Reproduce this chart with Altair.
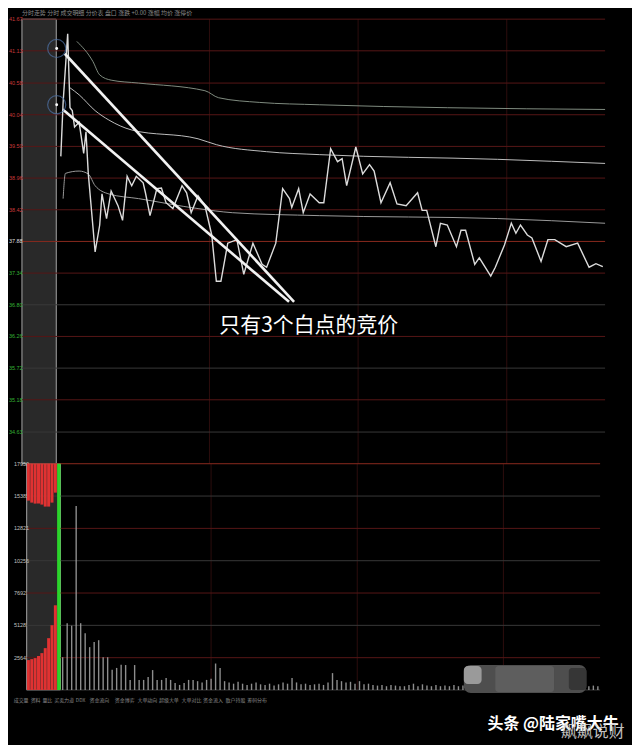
import altair as alt
import pandas as pd

# ---------------- data ----------------
PREV_CLOSE = 37.88
PRICE_MIN, PRICE_MAX = 34.09, 41.67
PRICE_TICKS = [41.67, 41.13, 40.58, 40.04, 39.50, 38.96, 38.42, 37.88,
               37.34, 36.80, 36.26, 35.72, 35.18, 34.63]
VOL_MAX = 17950
VOL_TICKS = [17950, 15385, 12821, 10256, 7692, 5128, 2564]

TIME_DOMAIN = [-21.1, 240]       # minutes from 9:30, call auction is negative
AUCTION_START, AUCTION_END = -15, 0
SESSION_END = 240
LABEL_T = -20.7
HOUR_LINES = [67, 132, 197]

PRICE_T = [2, 3, 5, 6, 7, 8, 10, 12, 13, 14, 17, 19, 20, 22, 24, 27, 29, 31, 33, 35,
           38, 39, 41, 44, 46, 48, 51, 55, 57, 59, 62, 65, 68, 70, 72, 75, 79, 82, 86, 90,
           92, 96, 99, 102, 103, 106, 108, 111, 115, 117, 120, 123, 125, 127, 131, 134, 137, 139, 142, 146,
           149, 153, 158, 160, 162, 166, 168, 171, 175, 177, 179, 183, 185, 190, 192, 196, 199, 201, 203, 206,
           208, 212, 215, 218, 223, 228, 233, 236, 239]
PRICE_V = [39.33, 40.25, 41.42, 40.16, 40.11, 39.83, 39.91, 39.38, 39.75, 39.04,
           37.70, 38.16, 38.69, 38.27, 38.74, 38.49, 38.24, 38.99, 38.83, 38.99,
           38.88, 38.71, 38.32, 38.78, 38.79, 38.54, 38.44, 38.83, 38.71, 38.37,
           38.66, 38.49, 37.99, 37.20, 37.20, 37.85, 37.91, 37.32, 37.85, 37.49,
           37.44, 37.85, 38.78, 38.61, 38.46, 38.78, 38.37, 38.69, 38.54, 38.54,
           39.46, 39.24, 39.29, 38.83, 39.49, 39.03, 39.19, 39.08, 38.54, 38.88,
           38.52, 38.49, 38.71, 38.41, 38.41, 37.79, 38.19, 38.16, 37.79, 38.07,
           38.07, 37.49, 37.60, 37.29, 37.44, 37.82, 38.19, 38.02, 38.16, 37.99,
           37.94, 37.54, 37.91, 37.91, 37.79, 37.85, 37.44, 37.50, 37.45]

LINE_A_T = [9, 16, 19, 24, 36, 65, 71, 89, 115, 171, 240]
LINE_A_V = [41.29, 40.95, 40.72, 40.63, 40.58, 40.45, 40.33, 40.25, 40.21, 40.16, 40.13]
LINE_B_T = [6, 10, 17, 23, 33, 62, 70, 92, 115, 193, 240]
LINE_B_V = [40.50, 40.38, 40.11, 39.95, 39.78, 39.63, 39.53, 39.41, 39.36, 39.28, 39.21]
LINE_C_T = [3, 4, 10, 14, 17, 23, 36, 62, 77, 115, 193, 240]
LINE_C_V = [38.61, 39.04, 39.08, 39.03, 38.83, 38.69, 38.61, 38.44, 38.37, 38.32, 38.27, 38.19]

VOL_T = list(range(1, 240, 2))
VOL_V = [2600, 5300, 5100, 14600, 5300, 4500, 3400, 3800, 3950, 2600,
         2600, 1600, 1750, 2000, 1980, 800, 1980, 800, 800, 1030,
         1580, 800, 800, 950, 800, 550, 400, 550, 800, 800,
         700, 600, 800, 900, 2100, 1740, 700, 600, 500, 650,
         500, 400, 500, 600, 450, 400, 500, 350, 450, 600,
         500, 950, 600, 450, 500, 400, 450, 500, 400, 600,
         1340, 800, 700, 600, 650, 500, 700, 450, 500, 400,
         350, 400, 300, 400, 350, 300, 300, 400, 500, 300,
         450, 350, 300, 400, 300, 350, 300, 400, 300, 350,
         300, 350, 300, 400, 300, 350, 300, 300, 350, 300,
         300, 350, 300, 300, 400, 300, 300, 350, 300, 300,
         350, 300, 400, 300, 350, 300, 400, 300, 350, 300]

AUC_T = [-14.25, -12.75, -11.25, -9.75, -8.25, -6.75, -5.25, -3.75, -2.25]
AUC_UPPER = [15023, 14865, 14786, 14786, 14707, 14549, 14549, 14865, 15656]
AUC_LOWER = [2372, 2451, 2530, 2688, 2926, 3321, 4112, 5140, 6721]
AUC_GREEN_T = [-0.7]
AUC_GREEN_V = [17950]

# annotation (hand drawn lines, circles, caption)
ANNOT_T0 = [3.75, 2.88]
ANNOT_P0 = [41.08, 40.13]
ANNOT_T1 = [104.0, 101.8]
ANNOT_P1 = [36.85, 36.85]
CIRCLE_T = [0.2, 0.2]
CIRCLE_P = [41.17, 40.21]
CAPTION = "只有3个白点的竞价"
CAPTION_T, CAPTION_P = 71.3, 36.43

HEADER = "分时走势   分时  成交明细  分价表  盘口  涨跌 +0.00  涨幅  均价  涨停价"
TAB_LABELS = ["成交量", "资料", "量比", "买卖力道", "DDX", "资金流向", "资金博弈",
              "大单动向", "超级大单", "大单对比", "资金流入", "散户持股", "筹码分布"]
TAB_T = [-20.8, -13.25, -8.02, -2.79, 6.80, 12.90, 24.21, 34.24, 43.82, 53.85, 63.44, 73.46, 83.05]
TAB_V = -791

WM1, WM1_T, WM1_V = "头条 @陆家嘴大牛", 189.9, -2688
WM2, WM2_T, WM2_V = "飙飙说财", 222.6, -3321
MOSAIC_MAIN = {"t0": [179.4], "t1": [233.9], "v0": [1977], "v1": [-237]}
MOSAIC_LIGHT = {"t0": [179.4], "t1": [187.3], "v0": [1898], "v1": [474]}
MOSAIC_MID = {"t0": [193.4], "t1": [219.5], "v0": [1898], "v1": [-158]}
MOSAIC_DARK = {"t0": [226.1], "t1": [233.9], "v0": [1740], "v1": [0]}

# ---------------- chart ----------------
W, H_PRICE, H_VOL = 599, 446, 227
FONT = "Noto Sans CJK SC"
NUM_FONT = "Liberation Sans"
RED_GRID, GRAY_GRID, BASE_GRID = "#561616", "#383838", "#8a2a1e"

xs = alt.Scale(domain=TIME_DOMAIN, nice=False, zero=False)
ps = alt.Scale(domain=[PRICE_MIN, PRICE_MAX], nice=False, zero=False)
vs = alt.Scale(domain=[0, VOL_MAX], nice=False, zero=False)


def X(f):
    return alt.X(f, type="quantitative", scale=xs, axis=None)


def PY(f):
    return alt.Y(f, type="quantitative", scale=ps, axis=None)


def VY(f):
    return alt.Y(f, type="quantitative", scale=vs, axis=None)


def rects(d, color, Y, radius=0):
    return alt.Chart(pd.DataFrame(d)).mark_rect(color=color, cornerRadius=radius).encode(
        x=X("t0"), x2="t1", y=Y("v0"), y2="v1")


# ---- grid line tables
price_kind = []
k = 0
for lv in PRICE_TICKS:
    if lv > PREV_CLOSE:
        price_kind.append("red")
    elif lv == PREV_CLOSE:
        price_kind.append("base")
    else:
        price_kind.append("red" if k % 2 == 0 else "gray")
        k += 1
price_grid = pd.DataFrame({"level": PRICE_TICKS, "kind": price_kind,
                           "t0": AUCTION_START, "t1": SESSION_END,
                           "label": [f"{v:.2f}" for v in PRICE_TICKS], "lt": LABEL_T})
price_grid["side"] = ["up" if v > PREV_CLOSE else ("flat" if v == PREV_CLOSE else "down") for v in PRICE_TICKS]

vol_levels = VOL_TICKS + [0]
vol_kind = ["base"] + ["gray" if i % 2 == 0 else "red" for i in range(len(vol_levels) - 1)]
vol_grid = pd.DataFrame({"level": vol_levels, "kind": vol_kind,
                         "t0": AUCTION_START, "t1": SESSION_END})
vol_lab = pd.DataFrame({"level": VOL_TICKS, "label": [str(v) for v in VOL_TICKS], "lt": LABEL_T})


def grid_layers(df, Y):
    out = []
    for kind, col in (("gray", GRAY_GRID), ("red", RED_GRID), ("base", BASE_GRID)):
        out.append(alt.Chart(df).transform_filter(alt.datum.kind == kind).mark_rule(
            color=col, strokeWidth=1).encode(x=X("t0"), x2="t1", y=Y("level")))
    return out


def label_layer(df, Y, color, side=None):
    c = alt.Chart(df)
    if side is not None:
        c = c.transform_filter(alt.datum.side == side)
    return c.mark_text(align="left", baseline="middle", fontSize=5.5, font=NUM_FONT, color=color).encode(
        x=X("lt"), y=Y("level"), text="label:N")


# ---- price panel
box_p = alt.Chart(pd.DataFrame({"t0": [AUCTION_START], "t1": [AUCTION_END],
                                "p0": [PRICE_MIN], "p1": [PRICE_MAX]})).mark_rect(
    fill="#292929", stroke="#a8a8a8", strokeWidth=1).encode(x=X("t0"), x2="t1", y=PY("p0"), y2="p1")

vlines_p = alt.Chart(pd.DataFrame({"t": HOUR_LINES})).mark_rule(color="#2c0d0d", strokeWidth=1).encode(x=X("t"))

line_a = alt.Chart(pd.DataFrame({"t": LINE_A_T, "p": LINE_A_V})).mark_line(
    color="#7f8c7f", strokeWidth=1, interpolate="monotone").encode(x=X("t"), y=PY("p"))
line_b = alt.Chart(pd.DataFrame({"t": LINE_B_T, "p": LINE_B_V})).mark_line(
    color="#bdbdbd", strokeWidth=1, interpolate="monotone").encode(x=X("t"), y=PY("p"))
line_c = alt.Chart(pd.DataFrame({"t": LINE_C_T, "p": LINE_C_V})).mark_line(
    color="#9a9a9a", strokeWidth=1, interpolate="monotone").encode(x=X("t"), y=PY("p"))
price_line = alt.Chart(pd.DataFrame({"t": PRICE_T, "p": PRICE_V})).mark_line(
    color="#dcdcdc", strokeWidth=1.4).encode(x=X("t"), y=PY("p"))

annot = alt.Chart(pd.DataFrame({"t0": ANNOT_T0, "p0": ANNOT_P0, "t1": ANNOT_T1, "p1": ANNOT_P1})).mark_rule(
    color="#f2f2f2", strokeWidth=2.6).encode(x=X("t0"), y=PY("p0"), x2="t1", y2="p1")
circles = alt.Chart(pd.DataFrame({"t": CIRCLE_T, "p": CIRCLE_P})).mark_point(
    shape="circle", filled=False, size=330, color="#4f73a8", strokeWidth=1.2).encode(x=X("t"), y=PY("p"))
dots = alt.Chart(pd.DataFrame({"t": CIRCLE_T, "p": CIRCLE_P})).mark_point(
    shape="circle", filled=True, size=8, color="#ffffff", opacity=1).encode(x=X("t"), y=PY("p"))
caption = alt.Chart(pd.DataFrame({"t": [CAPTION_T], "p": [CAPTION_P], "s": [CAPTION]})).mark_text(
    align="left", baseline="middle", fontSize=21, color="#ffffff", font=FONT).encode(
    x=X("t"), y=PY("p"), text="s:N")

price_panel = alt.layer(
    box_p, vlines_p, *grid_layers(price_grid, PY),
    label_layer(price_grid, PY, "#c83a3a", "up"),
    label_layer(price_grid, PY, "#dddddd", "flat"),
    label_layer(price_grid, PY, "#33b033", "down"),
    line_a, line_b, line_c, price_line, annot, circles, dots, caption,
).properties(width=W, height=H_PRICE)

# ---- volume panel
box_v = alt.Chart(pd.DataFrame({"t0": [AUCTION_START], "t1": [AUCTION_END],
                                "v0": [0], "v1": [VOL_MAX]})).mark_rect(
    fill="#292929", stroke="#a8a8a8", strokeWidth=1).encode(x=X("t0"), x2="t1", y=VY("v0"), y2="v1")
vlines_v = alt.Chart(pd.DataFrame({"t": HOUR_LINES})).mark_rule(color="#2c0d0d", strokeWidth=1).encode(x=X("t"))

auc_df = pd.DataFrame({"t": AUC_T, "up": AUC_UPPER, "lo": AUC_LOWER, "top": VOL_MAX, "zero": 0})
auc_up = alt.Chart(auc_df).mark_bar(size=3, color="#e03232").encode(x=X("t"), y=VY("up"), y2="top")
auc_lo = alt.Chart(auc_df).mark_bar(size=3, color="#e03232").encode(x=X("t"), y=VY("zero"), y2="lo")
auc_green = alt.Chart(pd.DataFrame({"t": AUC_GREEN_T, "v": AUC_GREEN_V})).mark_bar(
    size=3.5, color="#2bd42b").encode(x=X("t"), y=VY("v"))

vol_bars = alt.Chart(pd.DataFrame({"t": VOL_T, "v": VOL_V, "zero": 0})).mark_rule(
    strokeWidth=1.4, color="#a6a6a6", opacity=0.85).encode(x=X("t"), y=VY("zero"), y2="v")

tabs = alt.Chart(pd.DataFrame({"t": TAB_T, "s": TAB_LABELS, "v": TAB_V})).mark_text(
    align="left", baseline="middle", fontSize=5, color="#8a8a8a", font=FONT).encode(
    x=X("t"), y=VY("v"), text="s:N")
wm1 = alt.Chart(pd.DataFrame({"t": [WM1_T], "v": [WM1_V], "s": [WM1]})).mark_text(
    align="left", baseline="middle", fontSize=16, fontWeight="bold", color="#ffffff", font=FONT).encode(
    x=X("t"), y=VY("v"), text="s:N")
wm2 = alt.Chart(pd.DataFrame({"t": [WM2_T], "v": [WM2_V], "s": [WM2]})).mark_text(
    align="left", baseline="middle", fontSize=16, color="#d4d4d4", font=FONT, opacity=0.9).encode(
    x=X("t"), y=VY("v"), text="s:N")

vol_panel = alt.layer(
    box_v, vlines_v, *grid_layers(vol_grid, VY),
    label_layer(vol_lab, VY, "#c0c0c0"),
    auc_up, auc_lo, auc_green, vol_bars,
    rects(MOSAIC_MAIN, "#4e4e4e", VY, 7), rects(MOSAIC_LIGHT, "#9a9a9a", VY, 4),
    rects(MOSAIC_MID, "#5e5e5e", VY, 3), rects(MOSAIC_DARK, "#363636", VY, 3),
    tabs, wm1, wm2,
).properties(width=W, height=H_VOL)

chart = alt.vconcat(price_panel, vol_panel, spacing=0, bounds="flush").properties(
    title=alt.TitleParams(HEADER, fontSize=6, color="#8a8a8a", anchor="start", dx=14, offset=1,
                          font=FONT, fontWeight="normal"),
    padding={"left": 0, "top": 1, "right": 7, "bottom": 4},
).configure(background="#000000", font=FONT).configure_view(stroke=None)

chart.save("out.html", embed_options={"renderer": "svg", "actions": False})
